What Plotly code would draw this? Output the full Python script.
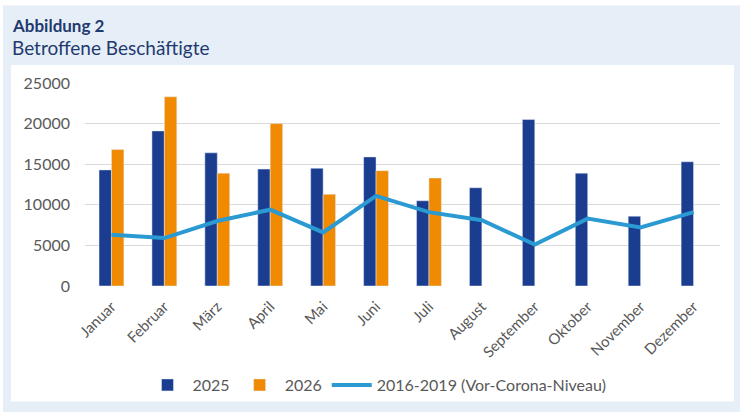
import plotly.graph_objects as go

# data
monate = ["Januar", "Februar", "März", "April", "Mai", "Juni", "Juli",
          "August", "September", "Oktober", "November", "Dezember"]
werte_2025 = [14300, 19100, 16400, 14400, 14500, 15900, 10500,
              12100, 20500, 13900, 8600, 15300]
werte_2026 = [16800, 23300, 13900, 20000, 11300, 14200, 13300,
              None, None, None, None, None]
vor_corona = [6300, 5900, 8000, 9400, 6600, 11100, 9100,
              8100, 5100, 8300, 7200, 9100]
y_ticks = [0, 5000, 10000, 15000, 20000, 25000]

W, H = 740, 412
L, R, T, B = 85, 20, 83, 125
pw, ph = W - L - R, H - T - B


def px_x(p):
    return (p - L) / pw


def px_y(p):
    return (H - B - p) / ph


navy = "#1b3d8f"
orange = "#f08a00"
line_blue = "#2b9ad3"
text_navy = "#1f3a6e"
grey = "#595959"

fig = go.Figure()
fig.add_trace(go.Bar(x=monate, y=werte_2025, name="2025", marker_color=navy))
fig.add_trace(go.Bar(x=monate, y=werte_2026, name="2026", marker_color=orange))
fig.add_trace(go.Scatter(x=monate, y=vor_corona, mode="lines",
                         name="2016-2019 (Vor-Corona-Niveau)",
                         line=dict(color=line_blue, width=4)))

shapes = [
    # light blue frame
    dict(type="rect", xref="paper", yref="paper", layer="below",
         x0=px_x(3), x1=px_x(W + 5), y0=px_y(H + 5), y1=px_y(5),
         fillcolor="#e6eef8", line=dict(width=0)),
    # white chart panel
    dict(type="rect", xref="paper", yref="paper", layer="below",
         x0=px_x(11), x1=px_x(734), y0=px_y(403), y1=px_y(65),
         fillcolor="white", line=dict(width=0)),
]

annotations = [
    dict(text="<b>Abbildung 2</b>", xref="paper", yref="paper",
         x=px_x(10), y=px_y(25), xanchor="left", yanchor="middle",
         showarrow=False, font=dict(size=17, color=text_navy)),
    dict(text="Betroffene Beschäftigte", xref="paper", yref="paper",
         x=px_x(10), y=px_y(47), xanchor="left", yanchor="middle",
         showarrow=False, font=dict(size=19, color=text_navy)),
]

fig.update_layout(
    width=W, height=H,
    margin=dict(l=L, r=R, t=T, b=B, pad=0),
    paper_bgcolor="white",
    plot_bgcolor="white",
    font=dict(family="Lato, sans-serif", color=grey),
    barmode="group",
    bargap=0.53,
    bargroupgap=0,
    shapes=shapes,
    annotations=annotations,
    legend=dict(orientation="h", x=px_x(377), y=px_y(385),
                xanchor="center", yanchor="middle",
                font=dict(size=16, color=grey), bgcolor="rgba(0,0,0,0)",
                itemwidth=40, traceorder="normal"),
)
fig.update_xaxes(tickangle=-45, tickfont=dict(size=15, color=grey),
                 showline=False, showgrid=False, ticks="",
                 ticklabelstandoff=8)
fig.update_yaxes(range=[0, 25000], tickvals=y_ticks, tickformat="d",
                 tickfont=dict(size=16, color=grey), gridcolor="#d9d9d9",
                 gridwidth=1, zeroline=False, showline=False, ticks="",
                 ticklabelstandoff=14)

fig.write_html("out.html", config={"displayModeBar": False},
               post_script="document.body.style.margin='0';")
